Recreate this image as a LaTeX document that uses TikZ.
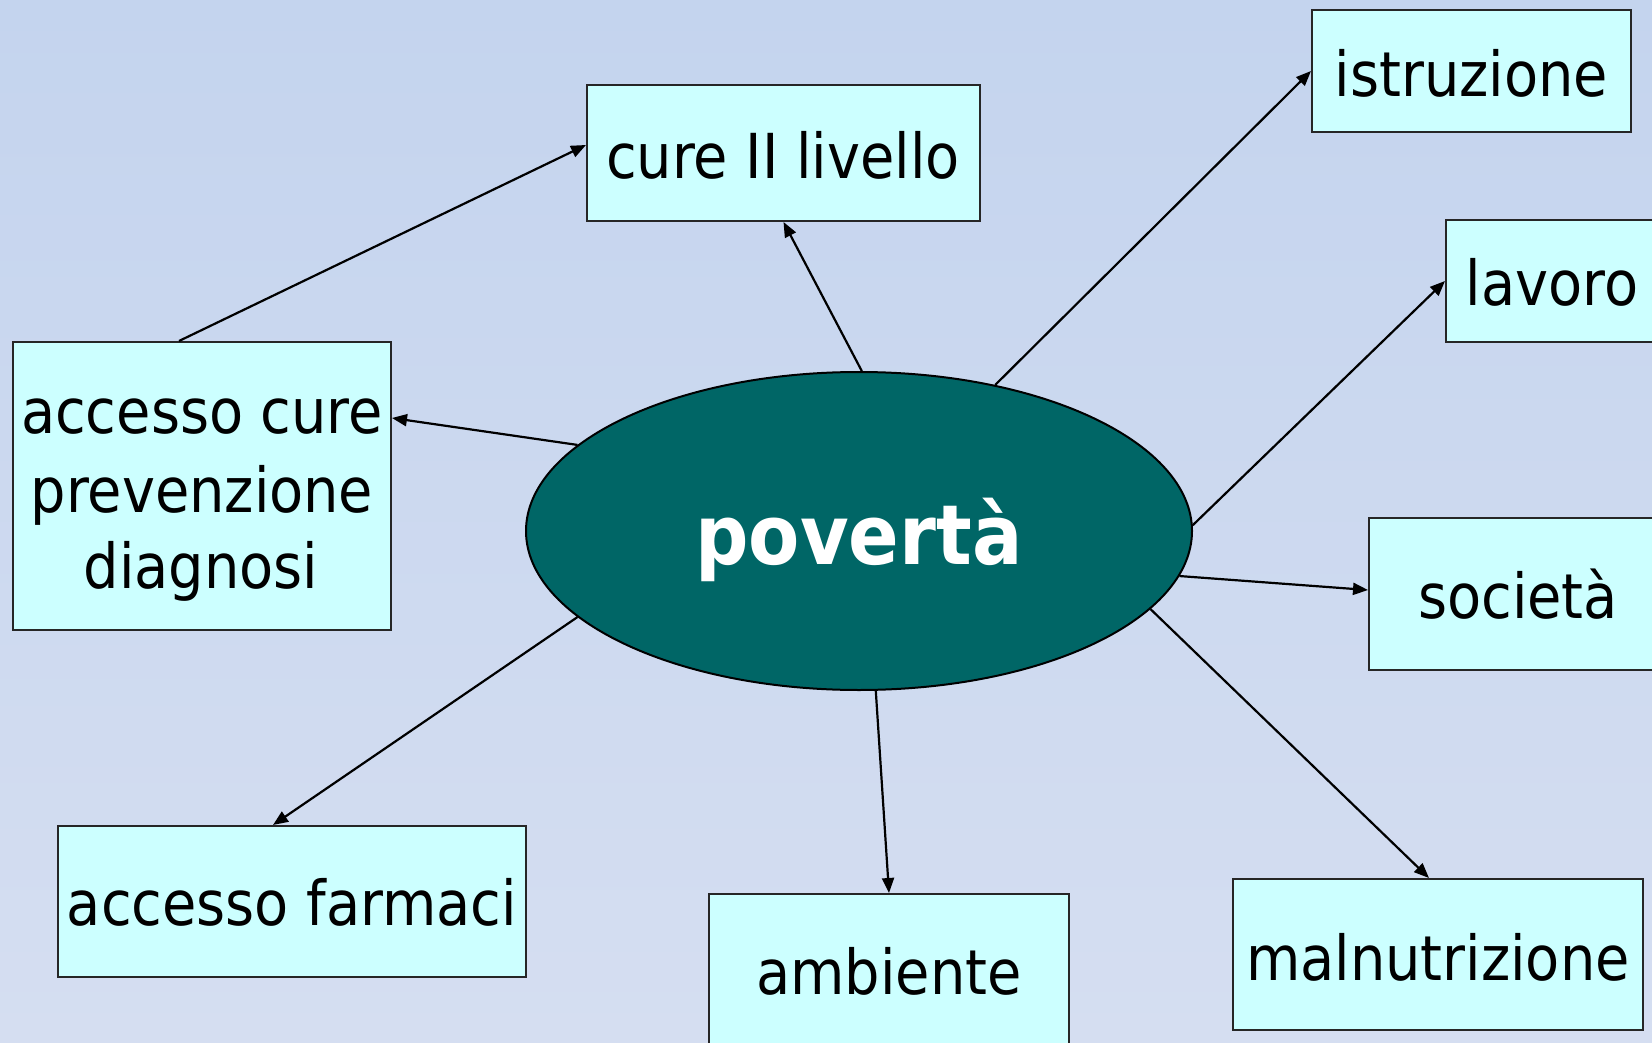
\documentclass[tikz,border=0pt]{standalone}
\usepackage{fontspec}
\setmainfont{DejaVu Sans Condensed}
\usetikzlibrary{arrows.meta,shapes.geometric}
\definecolor{bgtop}{HTML}{C4D4EE}
\definecolor{bgbot}{HTML}{D5DEF1}
\definecolor{boxcyan}{HTML}{CCFFFF}
\definecolor{teal}{HTML}{006666}
\tikzset{
  box/.style={draw=black!85, line width=2pt, fill=boxcyan, inner sep=0pt},
  lbl/.style={font=\fontsize{62}{75}\selectfont, inner sep=0pt, anchor=base, text=black},
  arr/.style={-{Triangle[length=15pt,width=12pt]}, line width=2.2pt, draw=black},
}
\begin{document}
\begin{tikzpicture}[x=1pt,y=-1pt]
\useasboundingbox (0,0) rectangle (1652,1043);
\clip (0,0) rectangle (1652,1043);
\shade[top color=bgtop, bottom color=bgbot] (0,0) rectangle (1652,1043);

% boxes
\node[box, minimum width=393pt, minimum height=136pt] (cure) at (783.5,153) {};
\node[box, minimum width=319pt, minimum height=122pt] (istr) at (1471.5,71) {};
\node[box, minimum width=212pt, minimum height=122pt] (lav) at (1552,281) {};
\node[box, minimum width=378pt, minimum height=288pt] (acc) at (202,486) {};
\node[box, minimum width=298pt, minimum height=152pt] (soc) at (1518,594) {};
\node[box, minimum width=468pt, minimum height=151pt] (far) at (292,901.5) {};
\node[box, minimum width=360pt, minimum height=151pt] (amb) at (889,969.5) {};
\node[box, minimum width=410pt, minimum height=151pt] (mal) at (1438,954.5) {};

% labels
\node[lbl] (tcure) at (783,179) {cure II livello};
\node[lbl] (tistr) at (1471.5,97) {istruzione};
\node[lbl] (tlav) at (1552,305) {lavoro};
\node[lbl] (tacc1) at (202,433) {accesso cure};
\node[lbl] (tacc2) at (202,512) {prevenzione};
\node[lbl] (tacc3) at (201,588) {diagnosi};
\node[lbl] (tsoc) at (1518,618) {società};
\node[lbl] (tfar) at (292,925) {accesso farmaci};
\node[lbl] (tamb) at (889,994) {ambiente};
\node[lbl] (tmal) at (1438,980) {malnutrizione};

% center ellipse
\node[ellipse, draw=black, line width=2pt, fill=teal, minimum width=666pt, minimum height=318pt, inner sep=0pt] (pov) at (859,531) {};
\node[inner sep=0pt, anchor=base, text=white, font=\fontsize{83}{100}\selectfont\bfseries] (tpov) at (859,564) {povertà};

% connectors
\draw[arr] (pov.89.6) -- (cure.south);
\draw[arr] (pov.47.3) -- (istr.west);
\draw[arr] (pov.1.2) -- (lav.west);
\draw[arr] (pov.-8.6) -- ([yshift=4pt]soc.west);
\draw[arr] (pov.-15.8) -- ([xshift=-9pt]mal.north);
\draw[arr] (pov.-84.6) -- (amb.north);
\draw[arr] (pov.-163.7) -- ([xshift=-19pt]far.north);
\draw[arr] (pov.163.9) -- ([yshift=68pt]acc.east);
\draw[arr] ([xshift=-23pt]acc.north) -- ([yshift=8pt]cure.west);
\end{tikzpicture}
\end{document}
